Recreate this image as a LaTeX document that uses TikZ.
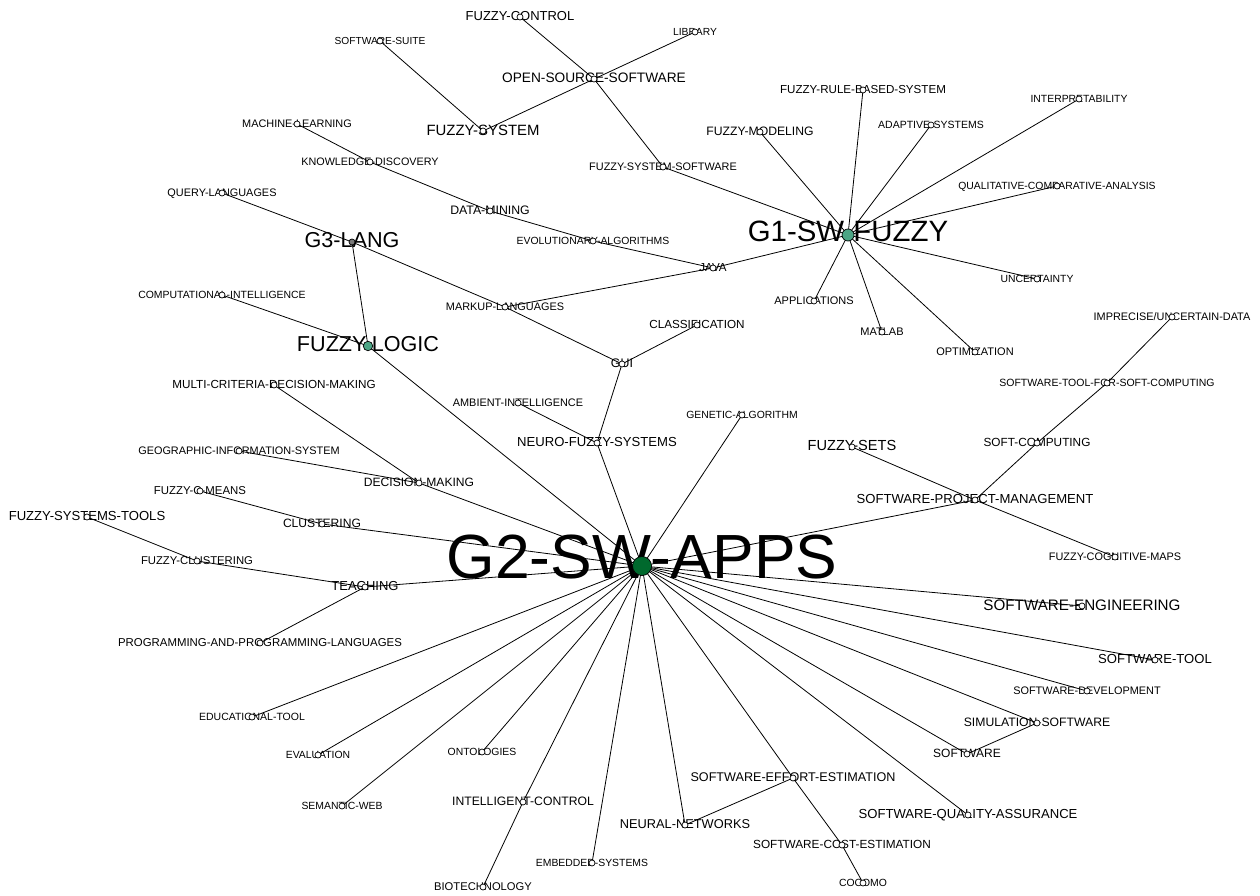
\documentclass[tikz,border=0pt]{standalone}
\usepackage{fontspec}
\setmainfont{Liberation Sans}
\pgfdeclarelayer{bg}
\pgfdeclarelayer{edges}
\pgfdeclarelayer{dots}
\pgfsetlayers{bg,edges,main,dots}
\definecolor{hubgreen}{HTML}{00692D}
\definecolor{hubteal}{HTML}{4CA585}
\definecolor{hubgrey}{HTML}{7A7A7A}
\tikzset{
  lab/.style={anchor=base,inner sep=0pt,text=black},
  dot/.style={circle,draw=black,fill=white,inner sep=0pt,minimum size=6pt,line width=0.7pt},
  hubtwo/.style={fill=hubgreen,minimum size=19pt},
  hubone/.style={fill=hubteal,minimum size=12pt},
  hubfl/.style={fill=hubteal,minimum size=9.5pt},
  hubthree/.style={fill=hubgrey,minimum size=6pt},
  edge/.style={draw=black,line width=0.8pt}
}
\newcommand{\kw}[6][]{%
  \node[lab,font=\fontsize{#5}{#5}\selectfont] (#2-l) at (#3,{#4+0.17*#5+1.5}) {#6};
  \begin{pgfonlayer}{dots}\node[dot,#1] (#2) at (#3,#4) {};\end{pgfonlayer}%
}
\begin{document}
\begin{tikzpicture}[x=1pt,y=-1pt]
\begin{pgfonlayer}{bg}
\fill[white] (0,0) rectangle (1260,896);
\end{pgfonlayer}
\useasboundingbox (0,0) rectangle (1260,896);

\kw[hubtwo]{g2}{642}{566}{62.4}{G2-SW-APPS}
\kw[hubone]{g1}{848}{235}{29.4}{G1-SW-FUZZY}
\kw[hubthree]{g3}{352}{242}{21.6}{G3-LANG}
\kw[hubfl]{fl}{368}{346}{21.6}{FUZZY-LOGIC}
\kw{ss}{380}{41}{10.2}{SOFTWARE-SUITE}
\kw{fc}{520}{17}{13}{FUZZY-CONTROL}
\kw{lib}{695}{32}{10.3}{LIBRARY}
\kw{oss}{594}{79}{13.7}{OPEN-SOURCE-SOFTWARE}
\kw{fs}{483}{131}{14.9}{FUZZY-SYSTEM}
\kw{fss}{663}{167}{10.9}{FUZZY-SYSTEM-SOFTWARE}
\kw{fm}{760}{132}{12.2}{FUZZY-MODELING}
\kw{dm}{490}{211}{12.3}{DATA-MINING}
\kw{ea}{593}{241}{10.4}{EVOLUTIONARY-ALGORITHMS}
\kw{java}{713}{268}{11.6}{JAVA}
\kw{ml}{297}{124}{10.9}{MACHINE-LEARNING}
\kw{kd}{370}{162}{10.8}{KNOWLEDGE-DISCOVERY}
\kw{ql}{222}{193}{10.9}{QUERY-LANGUAGES}
\kw{ci}{222}{295}{10.45}{COMPUTATIONAL-INTELLIGENCE}
\kw{mkl}{505}{307}{10.9}{MARKUP-LANGUAGES}
\kw{frbs}{863}{90}{11.6}{FUZZY-RULE-BASED-SYSTEM}
\kw{interp}{1079}{99}{10.4}{INTERPRETABILITY}
\kw{adapt}{931}{125}{10.5}{ADAPTIVE-SYSTEMS}
\kw{qca}{1057}{186}{10.4}{QUALITATIVE-COMPARATIVE-ANALYSIS}
\kw{unc}{1037}{279}{10.4}{UNCERTAINTY}
\kw{app}{814}{301}{11}{APPLICATIONS}
\kw{matlab}{882}{332}{11}{MATLAB}
\kw{opt}{975}{352}{11}{OPTIMIZATION}
\kw{iud}{1172}{317}{10.9}{IMPRECISE/UNCERTAIN-DATA}
\kw{stfsc}{1107}{383}{10.5}{SOFTWARE-TOOL-FOR-SOFT-COMPUTING}
\kw{sc}{1037}{443}{11.8}{SOFT-COMPUTING}
\kw{spm}{975}{500}{13.1}{SOFTWARE-PROJECT-MANAGEMENT}
\kw{fsets}{852}{447}{14.6}{FUZZY-SETS}
\kw{fcm}{1115}{557}{10.9}{FUZZY-COGNITIVE-MAPS}
\kw{ai}{518}{403}{10.9}{AMBIENT-INTELLIGENCE}
\kw{ga}{742}{415}{10.4}{GENETIC-ALGORITHM}
\kw{nfs}{597}{443}{13.1}{NEURO-FUZZY-SYSTEMS}
\kw{gui}{622}{364}{12.4}{GUI}
\kw{class}{697}{325}{11.7}{CLASSIFICATION}
\kw{mcdm}{274}{385}{11.7}{MULTI-CRITERIA-DECISION-MAKING}
\kw{gis}{239}{451}{10.9}{GEOGRAPHIC-INFORMATION-SYSTEM}
\kw{dmk}{419}{483}{12.1}{DECISION-MAKING}
\kw{fcmeans}{200}{491}{11.4}{FUZZY-C-MEANS}
\kw{clu}{322}{524}{12.1}{CLUSTERING}
\kw{fst}{87}{517}{13.1}{FUZZY-SYSTEMS-TOOLS}
\kw{fclu}{197}{561}{11.3}{FUZZY-CLUSTERING}
\kw{teach}{365}{587}{13}{TEACHING}
\kw{papl}{260}{643}{11.4}{PROGRAMMING-AND-PROGRAMMING-LANGUAGES}
\kw{et}{252}{717}{10.5}{EDUCATIONAL-TOOL}
\kw{eval}{318}{755}{10.4}{EVALUATION}
\kw{sw}{342}{806}{10.4}{SEMANTIC-WEB}
\kw{ont}{482}{752}{10.4}{ONTOLOGIES}
\kw{ic}{523}{802}{12.2}{INTELLIGENT-CONTROL}
\kw{bio}{483}{887}{11.2}{BIOTECHNOLOGY}
\kw{es}{592}{863}{10.4}{EMBEDDED-SYSTEMS}
\kw{nn}{685}{825}{12.8}{NEURAL-NETWORKS}
\kw{see}{793}{778}{12.6}{SOFTWARE-EFFORT-ESTIMATION}
\kw{sce}{842}{845}{11.8}{SOFTWARE-COST-ESTIMATION}
\kw{cocomo}{863}{883}{10.4}{COCOMO}
\kw{se}{1082}{606}{15.2}{SOFTWARE-ENGINEERING}
\kw{st}{1155}{660}{13.1}{SOFTWARE-TOOL}
\kw{sd}{1087}{691}{10.9}{SOFTWARE-DEVELOPMENT}
\kw{sims}{1037}{723}{12.2}{SIMULATION-SOFTWARE}
\kw{soft}{967}{754}{12}{SOFTWARE}
\kw{sqa}{968}{815}{13.1}{SOFTWARE-QUALITY-ASSURANCE}

\begin{pgfonlayer}{edges}
\foreach \a/\b in {g1/frbs,g1/interp,g1/adapt,g1/qca,g1/unc,g1/fm,g1/fss,g1/java,g1/app,g1/matlab,g1/opt,
  g2/fl,g2/nfs,g2/ga,g2/spm,g2/dmk,g2/clu,g2/teach,g2/se,g2/st,g2/sd,g2/sims,g2/soft,g2/sqa,g2/see,g2/nn,g2/es,g2/ic,g2/ont,g2/sw,g2/eval,g2/et,
  g3/ql,g3/fl,g3/mkl,
  ss/fs,fs/oss,oss/lib,fc/oss,oss/fss,ml/kd,kd/dm,dm/ea,ea/java,java/mkl,mkl/gui,gui/class,gui/nfs,ai/nfs,ci/fl,
  mcdm/dmk,gis/dmk,fcmeans/clu,fst/fclu,fclu/teach,papl/teach,iud/stfsc,stfsc/sc,sc/spm,fsets/spm,spm/fcm,
  bio/ic,see/sce,sce/cocomo,see/nn,soft/sims}
  \draw[edge] (\a.center) -- (\b.center);
\end{pgfonlayer}
\end{tikzpicture}
\end{document}
